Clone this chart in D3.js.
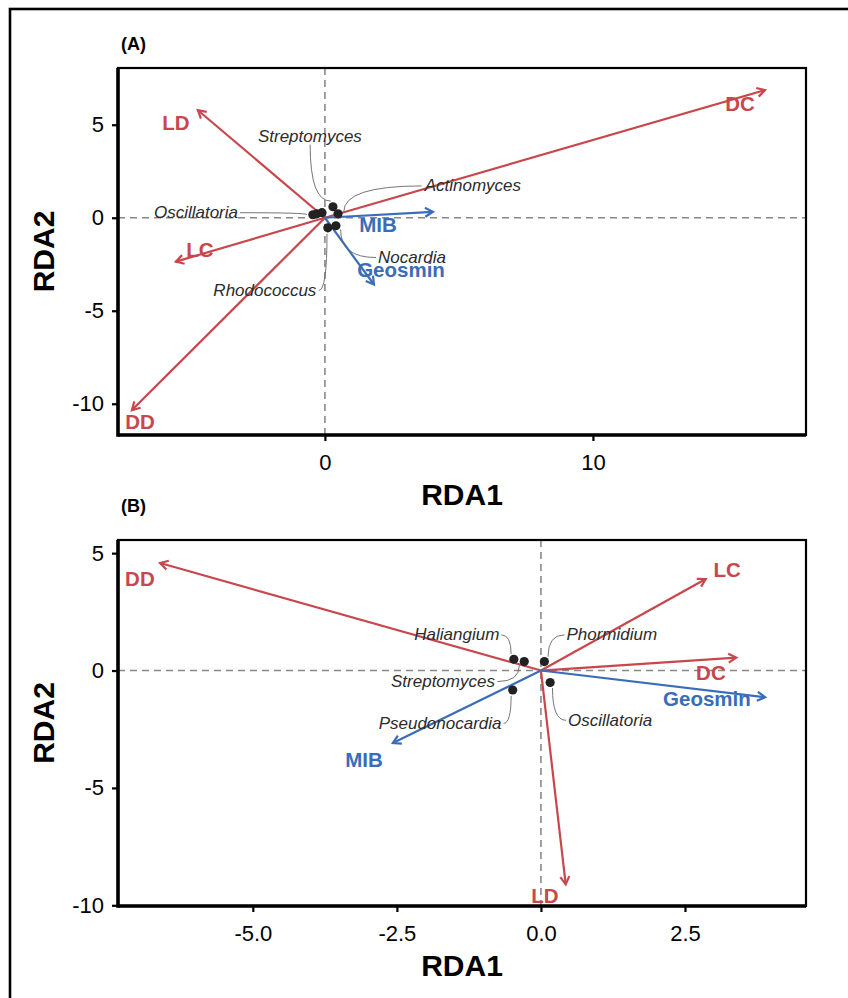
<!DOCTYPE html>
<html>
<head>
<meta charset="utf-8">
<script src="https://cdn.jsdelivr.net/npm/d3@7"></script>
<style>
  body { margin: 0; background: #fff; }
  svg { display: block; font-family: "Liberation Sans", Arial, Helvetica, sans-serif; }
</style>
</head>
<body>
<svg id="chart" width="848" height="998"></svg>
<script>
// ---- panel A data ----
const envA = ["DC", "LD", "LC", "DD", "MIB", "Geosmin"];
const envKindA = ["env", "env", "env", "env", "odor", "odor"];
const envXA = [16.42, -4.74, -5.56, -7.2, 4.03, 1.83];
const envYA = [6.86, 5.78, -2.36, -10.34, 0.32, -3.59];
const envLabXA = [15.49, -5.56, -4.66, -6.9, 1.98, 2.84];
const envLabYA = [6.16, 5.14, -1.71, -10.98, -0.37, -2.79];

const genusA = ["Oscillatoria", "g2", "g3", "Streptomyces", "Actinomyces", "Rhodococcus", "Nocardia"];
const genusXA = [-0.45, -0.3, -0.11, 0.3, 0.49, 0.11, 0.41];
const genusYA = [0.16, 0.21, 0.27, 0.59, 0.21, -0.54, -0.43];
const genusShownA = [true, false, false, true, true, true, true];
const genusLabXA = [-4.81, null, null, -0.56, 5.52, -2.24, 3.25];
const genusLabYA = [0.27, null, null, 4.39, 1.71, -3.91, -2.14];

// ---- panel B data ----
const envB = ["DD", "LC", "DC", "Geosmin", "MIB", "LD"];
const envKindB = ["env", "env", "env", "odor", "odor", "env"];
const envXB = [-6.61, 2.86, 3.39, 3.89, -2.57, 0.43];
const envYB = [4.58, 3.9, 0.55, -1.14, -3.09, -9.11];
const envLabXB = [-6.96, 3.23, 2.95, 2.88, -3.07, 0.07];
const envLabYB = [3.94, 4.32, -0.08, -1.19, -3.81, -9.58];

const genusB = ["Haliangium", "Streptomyces", "Phormidium", "Pseudonocardia", "Oscillatoria"];
const genusXB = [-0.47, -0.29, 0.06, -0.49, 0.16];
const genusYB = [0.48, 0.38, 0.38, -0.83, -0.51];
const genusShownB = [true, true, true, true, true];
const genusLabXB = [-1.46, -1.7, 1.23, -1.75, 1.2];
const genusLabYB = [1.52, -0.47, 1.52, -2.25, -2.12];

// ticks
const xTicksA = [0, 10];
const yTicksA = [-10, -5, 0, 5];
const xTicksB = [-5, -2.5, 0, 2.5];
const yTicksB = [-10, -5, 0, 5];

const colors = {env: "#C8474D", odor: "#3A6DB8"};

// plain hyphen for negative numbers, like the original figure
const hyphen = f => (d => f(d).replace("\u2212", "-"));

const svg = d3.select("#chart");
svg.append("rect").attr("width", 848).attr("height", 998).attr("fill", "#fff");

// outer frame (runs off the right and bottom edges)
svg.append("rect")
    .attr("x", 10).attr("y", 9)
    .attr("width", 900).attr("height", 1100)
    .attr("fill", "none").attr("stroke", "#000").attr("stroke-width", 2.6);

function drawPanel(p)
{
    const x = d3.scaleLinear().domain(p.xDom).range([p.left, p.right]);
    const y = d3.scaleLinear().domain(p.yDom).range([p.bottom, p.top]);
    const g = svg.append("g");

    // reference lines
    g.append("line")
        .attr("x1", p.left).attr("x2", p.right)
        .attr("y1", y(0)).attr("y2", y(0))
        .attr("stroke", "#888").attr("stroke-width", 1.6).attr("stroke-dasharray", "7,5");
    g.append("line")
        .attr("x1", x(0)).attr("x2", x(0))
        .attr("y1", p.top).attr("y2", p.bottom)
        .attr("stroke", "#888").attr("stroke-width", 1.6).attr("stroke-dasharray", "7,5");

    // arrows
    const arrows = p.env.map((n, i) => ({name: n, kind: p.kind[i], x: p.ex[i], y: p.ey[i], lx: p.lx[i], ly: p.ly[i]}));
    arrows.forEach(a => {
        const x0 = x(0), y0 = y(0), x1 = x(a.x), y1 = y(a.y);
        const ang = Math.atan2(y1 - y0, x1 - x0);
        const len = 9, spread = Math.PI / 6;
        const c = colors[a.kind];
        g.append("line")
            .attr("x1", x0).attr("y1", y0).attr("x2", x1).attr("y2", y1)
            .attr("stroke", c).attr("stroke-width", 2.2);
        g.append("path")
            .attr("d", d3.line()([
                [x1 - len * Math.cos(ang - spread), y1 - len * Math.sin(ang - spread)],
                [x1, y1],
                [x1 - len * Math.cos(ang + spread), y1 - len * Math.sin(ang + spread)]
            ]))
            .attr("fill", "none").attr("stroke", c).attr("stroke-width", 2.2)
            .attr("stroke-linejoin", "miter");
    });

    // genus points
    const pts = p.genus.map((n, i) => ({name: n, x: p.gx[i], y: p.gy[i], shown: p.shown[i], lx: p.glx[i], ly: p.gly[i]}));

    // genus labels + curved leaders
    pts.filter(d => d.shown).forEach(d => {
        const t = g.append("text")
            .attr("x", x(d.lx)).attr("y", y(d.ly))
            .attr("text-anchor", "middle").attr("dominant-baseline", "central")
            .attr("font-size", 17).attr("font-style", "italic").attr("fill", "#2b2b2b")
            .text(d.name);
        const bb = t.node().getBBox();
        const bx0 = bb.x - 2, bx1 = bb.x + bb.width + 2, by0 = bb.y + 1, by1 = bb.y + bb.height - 1;
        const cxl = (bx0 + bx1) / 2, cyl = (by0 + by1) / 2;
        const px = x(d.x), py = y(d.y);
        let sx, sy, kx, ky;
        if (px < bx0 || px > bx1) {
            sx = px < bx0 ? bx0 : bx1; sy = cyl;
        } else {
            sx = cxl; sy = py < by0 ? by0 : by1;
        }
        const dx = px - sx, dy = py - sy;
        const dist = Math.hypot(dx, dy);
        const ex = px - dx / dist * 6, ey = py - dy / dist * 6;
        if (px < bx0 || px > bx1) { kx = ex; ky = sy; }
        else { kx = sx; ky = ey; }
        g.insert("path", "text")
            .attr("d", `M${sx},${sy}Q${kx},${ky} ${ex},${ey}`)
            .attr("fill", "none").attr("stroke", "#666").attr("stroke-width", 0.9);
    });

    g.selectAll("circle.pt")
        .data(pts)
        .enter()
        .append("circle")
        .attr("class", "pt")
        .attr("cx", d => x(d.x)).attr("cy", d => y(d.y))
        .attr("r", 4.6).attr("fill", "#222");

    // arrow labels
    arrows.forEach(a => {
        g.append("text")
            .attr("x", x(a.lx)).attr("y", y(a.ly))
            .attr("text-anchor", "middle").attr("dominant-baseline", "central")
            .attr("font-size", 20.5).attr("font-weight", "bold")
            .attr("fill", colors[a.kind])
            .text(a.name);
    });

    // panel frame
    g.append("rect")
        .attr("x", p.left).attr("y", p.top)
        .attr("width", p.right - p.left).attr("height", p.bottom - p.top)
        .attr("fill", "none").attr("stroke", "#000").attr("stroke-width", 2.2);

    // axes
    const xAxis = d3.axisBottom(x).tickValues(p.xTicks).tickFormat(hyphen(p.fmt)).tickSize(6).tickPadding(9);
    const yAxis = d3.axisLeft(y).tickValues(p.yTicks).tickFormat(hyphen(d3.format("d"))).tickSize(6).tickPadding(8);

    const gx = g.append("g").attr("transform", `translate(0,${p.bottom})`).call(xAxis);
    const gy = g.append("g").attr("transform", `translate(${p.left},0)`).call(yAxis);
    [gx, gy].forEach(ax => {
        ax.select(".domain").remove();
        ax.selectAll(".tick line").attr("stroke", "#000").attr("stroke-width", 2.2);
        ax.selectAll(".tick text").attr("fill", "#000").attr("font-size", 22)
            .attr("font-family", "Liberation Sans, Arial, sans-serif");
    });
    gx.selectAll(".tick text").attr("dy", "0.9em");

    g.append("line")
        .attr("x1", p.left).attr("x2", p.right).attr("y1", p.bottom).attr("y2", p.bottom)
        .attr("stroke", "#000").attr("stroke-width", 3.6);
    g.append("line")
        .attr("x1", p.left).attr("x2", p.left).attr("y1", p.top).attr("y2", p.bottom + 1.8)
        .attr("stroke", "#000").attr("stroke-width", 3.6);

    // titles
    g.append("text")
        .attr("x", (p.left + p.right) / 2).attr("y", p.bottom + 59)
        .attr("text-anchor", "middle").attr("dominant-baseline", "central")
        .attr("font-size", 30).attr("font-weight", "bold").text("RDA1");
    g.append("text")
        .attr("transform", `translate(43,${(p.top + p.bottom) / 2}) rotate(-90)`)
        .attr("text-anchor", "middle").attr("dominant-baseline", "central")
        .attr("font-size", 30).attr("font-weight", "bold").text("RDA2");
    g.append("text")
        .attr("x", 121).attr("y", p.tagY)
        .attr("dominant-baseline", "central")
        .attr("font-size", 18).attr("font-weight", "bold").text(p.tag);
}

drawPanel({
    left: 118, right: 806, top: 68, bottom: 435,
    xDom: [-7.72, 17.95], yDom: [-11.68, 8.05],
    xTicks: xTicksA, yTicks: yTicksA, fmt: d3.format("d"),
    env: envA, kind: envKindA, ex: envXA, ey: envYA, lx: envLabXA, ly: envLabYA,
    genus: genusA, gx: genusXA, gy: genusYA, shown: genusShownA, glx: genusLabXA, gly: genusLabYA,
    tag: "(A)", tagY: 44
});

drawPanel({
    left: 118, right: 806, top: 540, bottom: 906,
    xDom: [-7.34, 4.6], yDom: [-10.03, 5.56],
    xTicks: xTicksB, yTicks: yTicksB, fmt: d3.format(".1f"),
    env: envB, kind: envKindB, ex: envXB, ey: envYB, lx: envLabXB, ly: envLabYB,
    genus: genusB, gx: genusXB, gy: genusYB, shown: genusShownB, glx: genusLabXB, gly: genusLabYB,
    tag: "(B)", tagY: 506
});
</script>
</body>
</html>
